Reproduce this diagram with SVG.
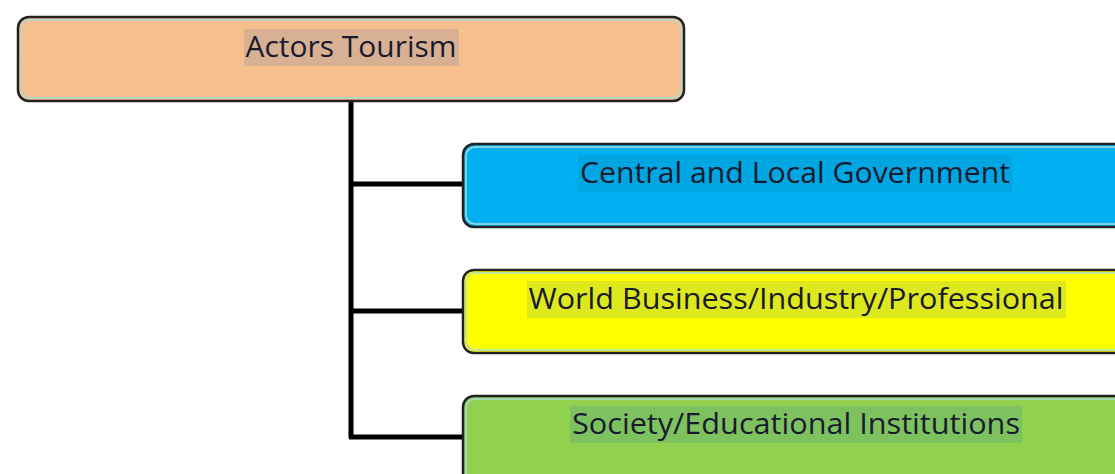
<svg xmlns="http://www.w3.org/2000/svg" width="1115" height="474" viewBox="0 0 1115 474">
<style>
.box{stroke:#222;stroke-width:2.5}
.inner{fill:none;stroke:#a8dcd8;stroke-width:1.5}
.lbl{font-family:"Open Sans","Noto Sans",sans-serif;font-size:30px;fill:#1a1a2e;text-anchor:middle}
.conn{stroke:#000;stroke-width:5;fill:none}
</style>
<rect width="1115" height="474" fill="#fff"/>
<g id="connectors">
<path class="conn" d="M351,101 V438 M349,184 H463 M349,311 H463 M349,437 H463"/>
</g>
<g id="node-actors">
<rect class="box" x="18" y="17" width="666" height="84" rx="11" fill="#f7be8e"/>
<rect class="inner" x="21" y="20" width="660" height="78" rx="9"/>
<rect x="244" y="29" width="215" height="37" fill="#d8b194"/>
<text class="lbl" x="351" y="57" textLength="211" lengthAdjust="spacingAndGlyphs">Actors Tourism</text>
</g>
<g id="node-government">
<rect class="box" x="463" y="144" width="670" height="83" rx="11" fill="#00b0f0"/>
<rect class="inner" x="466" y="147" width="664" height="77" rx="9"/>
<rect x="578" y="155" width="434" height="37" fill="#00a6e2"/>
<text class="lbl" x="795" y="183" textLength="430" lengthAdjust="spacingAndGlyphs">Central and Local Government</text>
</g>
<g id="node-business">
<rect class="box" x="463" y="270" width="670" height="83" rx="11" fill="#ffff00"/>
<rect class="inner" x="466" y="273" width="664" height="77" rx="9"/>
<rect x="527" y="281" width="539" height="37" fill="#dde91c"/>
<text class="lbl" x="796" y="309" textLength="535" lengthAdjust="spacingAndGlyphs">World Business/Industry/Professional</text>
</g>
<g id="node-society">
<rect class="box" x="463" y="396" width="670" height="100" rx="11" fill="#92d050"/>
<rect class="inner" x="466" y="399" width="664" height="94" rx="9"/>
<rect x="570" y="406" width="452" height="37" fill="#7dc25e"/>
<text class="lbl" x="796" y="434" textLength="448" lengthAdjust="spacingAndGlyphs">Society/Educational Institutions</text>
</g>
</svg>
